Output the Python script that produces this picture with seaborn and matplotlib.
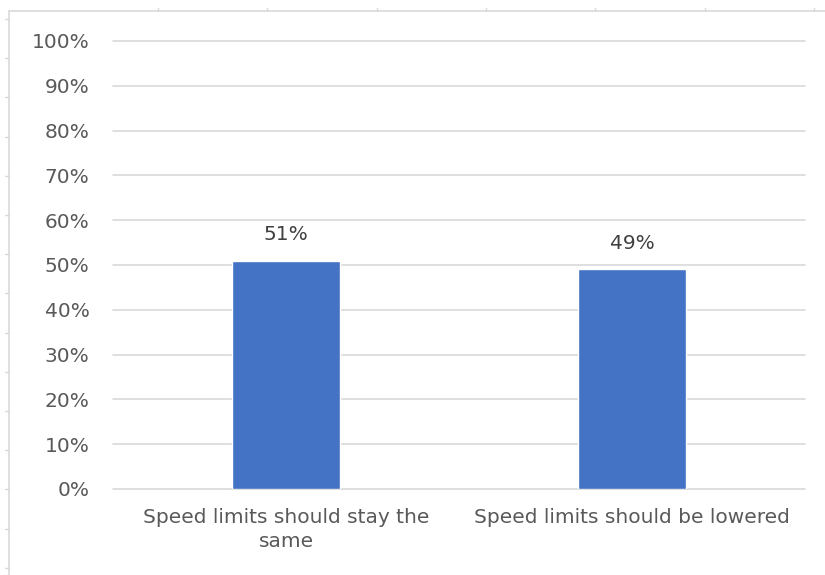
#! /bin/env python3

''' Bar chart: opinions on speed limits '''

import matplotlib.pyplot as plt
from matplotlib.lines import Line2D
from matplotlib.ticker import PercentFormatter
import seaborn as sns
from pandas import DataFrame

categories = ["Speed limits should stay the\nsame", "Speed limits should be lowered"]
shares = [51, 49]
yticks = [0, 10, 20, 30, 40, 50, 60, 70, 80, 90, 100]

GREY = "#595959"
FRAME = "#D9D9D9"
W, H = 825, 575


def _frame_line(fig, xs, ys, width=1.2):
    # xs, ys in pixels from top-left
    fig.add_artist(Line2D([x / W for x in xs], [1 - y / H for y in ys],
                          color=FRAME, linewidth=width))


def _main():
    sns.set_theme(style="white")
    plt.rcParams['font.family'] = ['DejaVu Sans']

    data = DataFrame({"category": categories, "share": shares})

    fig = plt.figure(figsize=(W / 100, H / 100), dpi=100)
    axis = fig.add_axes([113 / W, 1 - 489 / H, 692 / W, 448 / H])

    sns.barplot(data, x="category", y="share", color="#4472C4",
                width=0.315, saturation=1, ax=axis)

    axis.set_ylim(0, 100)
    axis.set_xlim(-0.5, 1.5)
    axis.set_yticks(yticks)
    axis.yaxis.set_major_formatter(PercentFormatter(decimals=0))
    axis.grid(axis="y", color="#D9D9D9", linewidth=1.2)
    for line in axis.get_ygridlines():
        line.set_clip_on(False)
    axis.set_axisbelow(True)
    for side in ["top", "right", "left", "bottom"]:
        axis.spines[side].set_visible(False)
    axis.tick_params(axis="both", length=0, colors=GREY, labelsize=14.5)
    axis.tick_params(axis="y", pad=17)
    axis.tick_params(axis="x", pad=14)
    for lab in axis.get_xticklabels():
        lab.set_linespacing(1.3)
    axis.set_xlabel("")
    axis.set_ylabel("")

    for idx, val in enumerate(shares):
        axis.annotate(f"{val}%", (idx, val), xytext=(0, 12),
                      textcoords="offset points", ha="center", va="bottom",
                      fontsize=14.5, color="#404040")

    # light frame along the left and top edges, with small ruler ticks
    _frame_line(fig, [9, 9], [11, H])
    _frame_line(fig, [9, W], [11, 11])
    for k in range(15):
        ypos = 19 + 39.2 * k
        _frame_line(fig, [5, 9], [ypos, ypos], width=1.0)
    for k in range(7):
        xpos = 158 + 109.3 * k
        _frame_line(fig, [xpos, xpos], [8, 11], width=1.0)

    fig.savefig("out.png", dpi=100)


if __name__ == "__main__":
    _main()
